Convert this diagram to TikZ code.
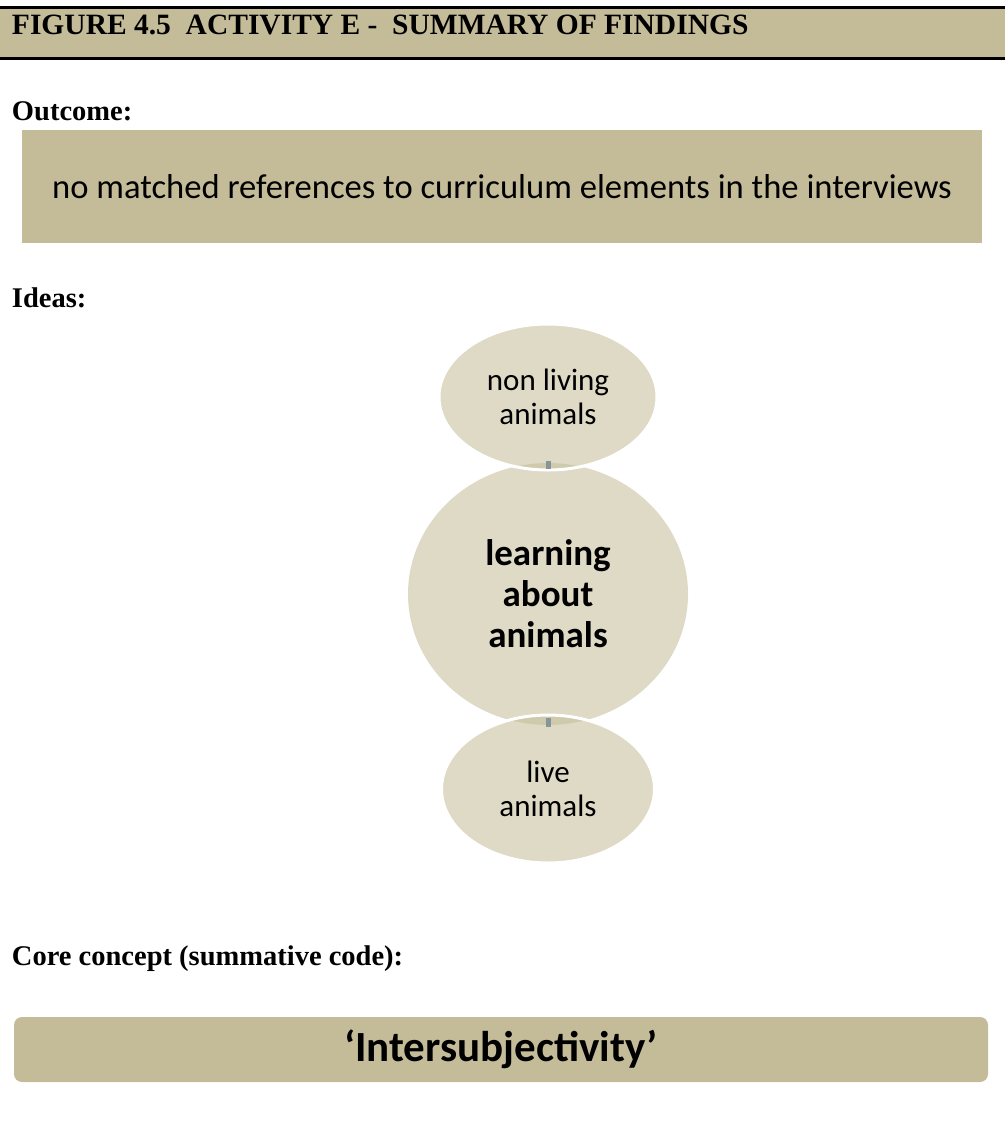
\documentclass[tikz,border=0pt]{standalone}
\usepackage{fontspec}
\setmainfont{Liberation Serif}
\newfontfamily\calibri{Carlito}
\usetikzlibrary{shapes.geometric}
\definecolor{khaki}{RGB}{196,188,152}
\definecolor{linkgray}{RGB}{135,148,153}

\begin{document}
\begin{tikzpicture}[x=1pt, y=-1pt,
    every node/.style={inner sep=0pt, outer sep=0pt},
    heading/.style={anchor=base west, font=\fontsize{28.5}{32}\selectfont\bfseries},
    box/.style={fill=khaki, font=\calibri\fontsize{34.6}{40}\selectfont},
    idea/.style={ellipse, fill=khaki, fill opacity=0.55, text opacity=1, align=center, font=\calibri\fontsize{31}{34}\selectfont},
    leaf/.style={draw=white, draw opacity=1, line width=3pt},
    link/.style={draw=linkgray, line width=5pt}]
    \useasboundingbox (0,0) rectangle (1005,1126);
    \fill[khaki] (0,8) rectangle (1005,58);
    \draw[line width=2.5pt] (0,7.5) -- (1005,7.5) (0,58.5) -- (1005,58.5);
    \node[heading, font=\fontsize{29.5}{34}\selectfont\bfseries] (title) at (12,35) {FIGURE 4.5\ \ ACTIVITY E -\ \ SUMMARY OF FINDINGS};
    \node[heading] (lblOutcome) at (12,121) {Outcome:};
    \node[box, minimum width=960, minimum height=113] (outcome) at (502,186.5) {no matched references to curriculum elements in the interviews};
    \node[heading] (lblIdeas) at (12,307) {Ideas:};
    \node[idea, minimum width=280, minimum height=262, font=\calibri\bfseries\fontsize{37}{41}\selectfont] (core) at (548,594) {learning\\about\\animals};
    \node[idea, leaf, minimum width=218, minimum height=146] (nonliving) at (548,397) {non living\\animals};
    \node[idea, leaf, minimum width=213, minimum height=148] (live) at (548,789) {live\\animals};
    \draw[link, shorten <=1.5pt, shorten >=-2pt] (nonliving.south) -- (core.north);
    \draw[link, shorten <=-2pt, shorten >=3pt] (core.south) -- (live.north);
    \node[heading] (lblCore) at (12,965) {Core concept (summative code):};
    \node[box, rounded corners=8pt, minimum width=974, minimum height=65, font=\calibri\bfseries\fontsize{43}{48}\selectfont] (concept) at (501,1049.5) {‘Intersubjectivity’};
\end{tikzpicture}
\end{document}
